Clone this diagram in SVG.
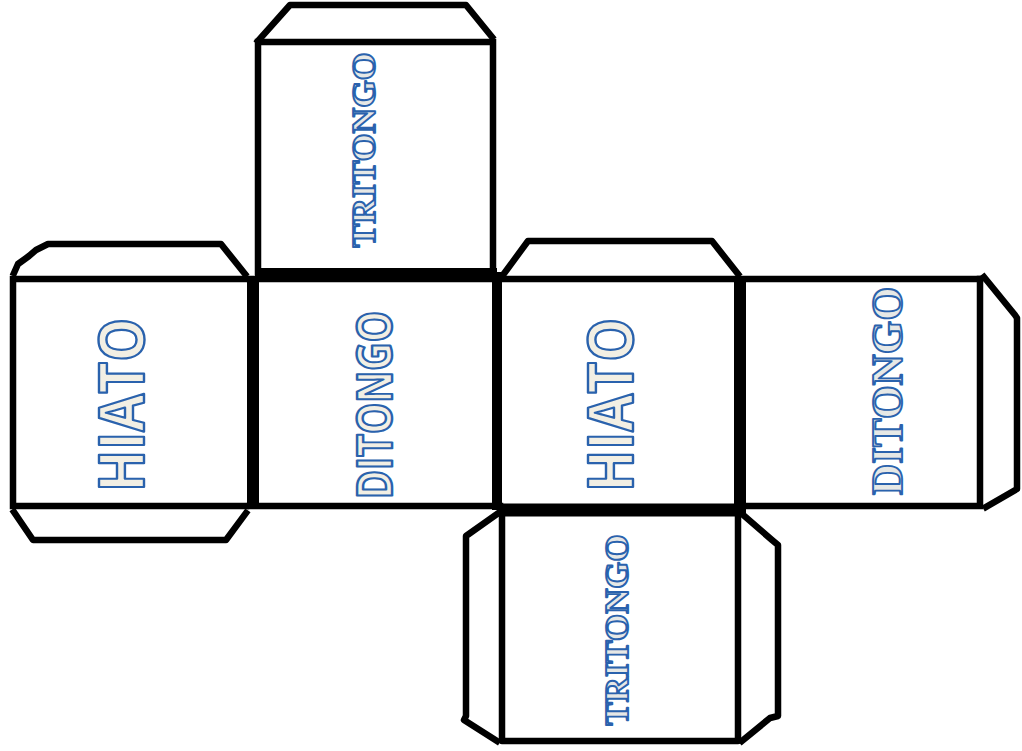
<svg xmlns="http://www.w3.org/2000/svg" width="1022" height="751" viewBox="0 0 1022 751">
<style>
.l{fill:none;stroke:#000;stroke-width:6.5;stroke-linejoin:round;stroke-linecap:square}
.t{fill:none;stroke:#000;stroke-width:12;stroke-linecap:butt}
.a{font-family:"Open Sans","Liberation Sans",sans-serif;font-weight:700;fill:#f2efe4;stroke:#2a62ad;stroke-width:2.4;stroke-linejoin:round;text-anchor:middle}
.s{font-family:"Liberation Serif","Times New Roman",serif;font-weight:bold;fill:#e6e8e6;stroke:#2a62ad;stroke-width:1.9;stroke-linejoin:round;text-anchor:middle}
</style>
<rect width="1022" height="751" fill="#fff"/>
<g id="connectors">
<path class="l" d="M258 42H492M258 42V272M493 42V272"/>
<path class="l" d="M13 279H246M13 279V506M13 506H246"/>
<path class="l" d="M250 279H980M250 506H500"/>
<path class="l" d="M744 506H980M980 279V506"/>
<path class="l" d="M502 512V741H738V512"/>
</g>
<g id="thick-folds">
<path class="t" d="M255 272H497" style="stroke-width:8"/>
<path class="t" d="M253 276V506"/>
<path class="t" d="M497 272V510" style="stroke-width:10"/>
<path class="t" d="M740 276V512"/>
<path class="t" d="M497 510H746" style="stroke-width:13"/>
</g>
<g id="flap-top">
<path class="l" d="M258 41L290 5H466L492 37"/>
</g>
<g id="flap-left-top">
<path class="l" d="M14 273L18 264L29 256L36 250L48 244H221L245 274"/>
</g>
<g id="flap-left-bottom">
<path class="l" d="M14 512L33 540H226L246 513"/>
</g>
<g id="flap-center-top">
<path class="l" d="M503 275L528 241H712L738 274"/>
</g>
<g id="flap-right">
<path class="l" d="M984 277L1015 315L1017 318V489L986 507"/>
</g>
<g id="flap-bottom-left">
<path class="l" d="M497 514L466 536V716L464 720L497 741"/>
</g>
<g id="flap-bottom-right">
<path class="l" d="M742 514L772 540L778 545V716L770 718L742 741"/>
</g>
<g id="face-hiato-left">
<text class="a" transform="translate(144 405) rotate(-90)" font-size="62" textLength="174" lengthAdjust="spacingAndGlyphs">HIATO</text>
</g>
<g id="face-ditongo-center">
<text class="a" transform="translate(392 405) rotate(-90)" font-size="48" textLength="188" lengthAdjust="spacingAndGlyphs">DITONGO</text>
</g>
<g id="face-hiato-center">
<text class="a" transform="translate(633 405) rotate(-90)" font-size="62" textLength="174" lengthAdjust="spacingAndGlyphs">HIATO</text>
</g>
<g id="face-ditongo-right">
<text class="s" transform="translate(902 391) rotate(-90)" font-size="44" textLength="208" lengthAdjust="spacingAndGlyphs">DITONGO</text>
</g>
<g id="face-tritongo-top">
<text class="s" transform="translate(375 150) rotate(-90)" font-size="34" textLength="195" lengthAdjust="spacingAndGlyphs">TRITONGO</text>
</g>
<g id="face-tritongo-bottom">
<text class="s" transform="translate(628 630) rotate(-90)" font-size="34" textLength="191" lengthAdjust="spacingAndGlyphs">TRITONGO</text>
</g>
</svg>
